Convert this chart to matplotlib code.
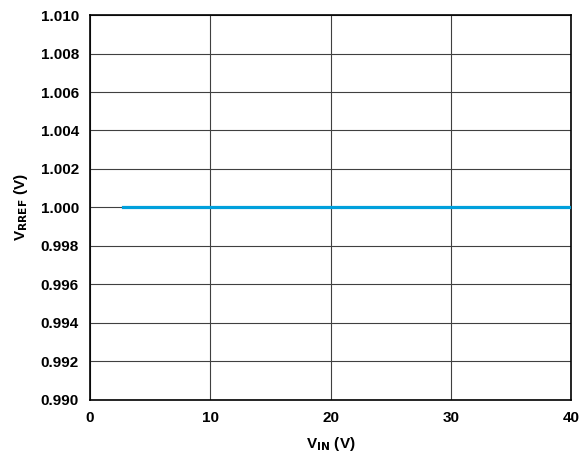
import numpy as np
import matplotlib.pyplot as plt

plt.rcParams['font.family'] = ['Liberation Sans', 'DejaVu Sans']
plt.rcParams['font.weight'] = 'bold'
plt.rcParams['font.size'] = 11
plt.rcParams['mathtext.fontset'] = 'dejavusans'

# reference voltage vs input voltage
vin = [2.75, 5, 10, 15, 20, 25, 30, 35, 40]
vrref = [1.000, 1.000, 1.000, 1.000, 1.000, 1.000, 1.000, 1.000, 1.000]

xticks = [0, 10, 20, 30, 40]
yticks = np.arange(0.990, 1.0101, 0.002)

fig = plt.figure(figsize=(5.81, 4.55), dpi=100)
ax = fig.add_axes([0.155, 0.121, 0.828, 0.846])

ax.plot(vin, vrref, color='#00A0DC', linewidth=2.3, zorder=3)

ax.set_xlim(0, 40)
ax.set_ylim(0.990, 1.010)
ax.set_xticks(xticks)
ax.set_yticks(yticks)
ax.set_yticklabels(['%.3f' % v for v in yticks])
ax.grid(True, color='#404040', linewidth=0.8)
ax.tick_params(length=0, pad=8)
for s in ax.spines.values():
    s.set_linewidth(1.2)

ax.set_xlabel(r'V$_{\mathbf{IN}}$ (V)', fontweight='bold', labelpad=7)
ax.set_ylabel(r'V$_{\mathbf{RREF}}$ (V)', fontweight='bold', labelpad=8)

fig.savefig('out.png', dpi=100)
